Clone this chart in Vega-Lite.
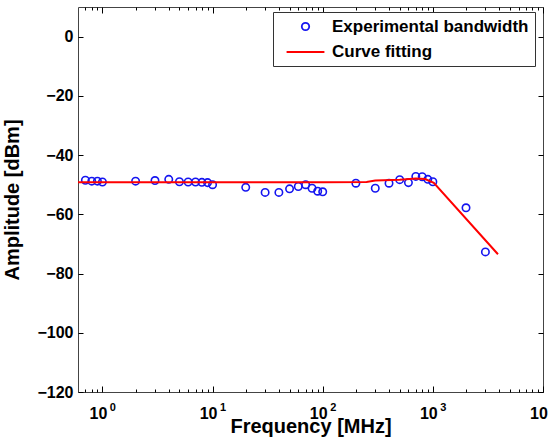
{
  "$schema": "https://vega.github.io/schema/vega-lite/v6.json",
  "width": 465,
  "height": 385,
  "autosize": "none",
  "padding": {"left": 78, "top": 7, "right": 6, "bottom": 47},
  "background": "white",
  "config": {
    "view": {"stroke": "#444444", "strokeWidth": 1},
    "font": "Liberation Sans",
    "axis": {"domain": false, "grid": false, "labelFont": "Liberation Sans", "labelFontWeight": "bold", "labelFontSize": 16, "labelColor": "black", "titleFont": "Liberation Sans", "titleFontWeight": "bold", "titleFontSize": 20, "titleColor": "black"}
  },
  "datasets": {
    "exp": [
      {"f": 0.7, "a": -48.5, "s": "Experimental bandwidth"},
      {"f": 0.8, "a": -48.8, "s": "Experimental bandwidth"},
      {"f": 0.9, "a": -48.8, "s": "Experimental bandwidth"},
      {"f": 1, "a": -49.1, "s": "Experimental bandwidth"},
      {"f": 2, "a": -48.8, "s": "Experimental bandwidth"},
      {"f": 3, "a": -48.6, "s": "Experimental bandwidth"},
      {"f": 4, "a": -48.2, "s": "Experimental bandwidth"},
      {"f": 5, "a": -49.0, "s": "Experimental bandwidth"},
      {"f": 6, "a": -49.1, "s": "Experimental bandwidth"},
      {"f": 7, "a": -49.1, "s": "Experimental bandwidth"},
      {"f": 8, "a": -49.2, "s": "Experimental bandwidth"},
      {"f": 9, "a": -49.3, "s": "Experimental bandwidth"},
      {"f": 10, "a": -50.0, "s": "Experimental bandwidth"},
      {"f": 20, "a": -50.9, "s": "Experimental bandwidth"},
      {"f": 30, "a": -52.6, "s": "Experimental bandwidth"},
      {"f": 40, "a": -52.6, "s": "Experimental bandwidth"},
      {"f": 50, "a": -51.4, "s": "Experimental bandwidth"},
      {"f": 60, "a": -50.6, "s": "Experimental bandwidth"},
      {"f": 70, "a": -50.0, "s": "Experimental bandwidth"},
      {"f": 80, "a": -51.2, "s": "Experimental bandwidth"},
      {"f": 90, "a": -52.2, "s": "Experimental bandwidth"},
      {"f": 100, "a": -52.4, "s": "Experimental bandwidth"},
      {"f": 200, "a": -49.5, "s": "Experimental bandwidth"},
      {"f": 300, "a": -51.2, "s": "Experimental bandwidth"},
      {"f": 400, "a": -49.5, "s": "Experimental bandwidth"},
      {"f": 500, "a": -48.3, "s": "Experimental bandwidth"},
      {"f": 600, "a": -49.3, "s": "Experimental bandwidth"},
      {"f": 700, "a": -47.2, "s": "Experimental bandwidth"},
      {"f": 800, "a": -47.3, "s": "Experimental bandwidth"},
      {"f": 900, "a": -48.2, "s": "Experimental bandwidth"},
      {"f": 1000, "a": -49.0, "s": "Experimental bandwidth"},
      {"f": 2000, "a": -57.8, "s": "Experimental bandwidth"},
      {"f": 3000, "a": -72.7, "s": "Experimental bandwidth"}
    ],
    "fit": [
      {"f": 0.6, "a": -49.2, "s": "Curve fitting"},
      {"f": 100, "a": -49.2, "s": "Curve fitting"},
      {"f": 250, "a": -49.1, "s": "Curve fitting"},
      {"f": 300, "a": -48.6, "s": "Curve fitting"},
      {"f": 500, "a": -48.3, "s": "Curve fitting"},
      {"f": 700, "a": -47.9, "s": "Curve fitting"},
      {"f": 850, "a": -48.1, "s": "Curve fitting"},
      {"f": 1020, "a": -49.4, "s": "Curve fitting"},
      {"f": 3900, "a": -73.5, "s": "Curve fitting"}
    ]
  },
  "layer": [
    {
      "data": {"name": "exp"},
      "mark": {"type": "point", "filled": false, "size": 55, "strokeWidth": 1.6, "opacity": 1},
      "encoding": {
        "x": {"field": "f", "type": "quantitative", "scale": {"type": "log", "domain": [0.6, 10000], "nice": false},
          "axis": {"orient": "bottom", "title": "Frequency [MHz]", "titlePadding": -5, "ticks": false, "tickSize": 0,
            "values": [1,10,100,1000,10000],
            "labelExpr": "'10'",
            "labelBaseline": "alphabetic", "labelPadding": 26, "labelOffset": -4.5, "labelFlush": false, "labelOverlap": false}},
        "y": {"field": "a", "type": "quantitative", "scale": {"domain": [-120, 10], "nice": false, "zero": false},
          "axis": {"orient": "left", "title": "Amplitude [dBm]", "ticks": false, "tickSize": 0, "values": [-120,-100,-80,-60,-40,-20,0], "labelPadding": 5, "titlePadding": 14}},
        "color": {"field": "s", "type": "nominal", "scale": {"domain": ["Experimental bandwidth", "Curve fitting"], "range": ["#1515f0", "#ff0000"]},
          "legend": {"orient": "none", "legendX": 195, "legendY": 5, "title": null, "strokeColor": "#333333", "fillColor": "white", "padding": 6, "labelFontSize": 17, "labelFontWeight": "bold", "labelColor": "black", "labelLimit": 400, "symbolSize": 55, "symbolStrokeWidth": 1.8, "symbolOffset": 18, "labelOffset": 18, "rowPadding": 7.5}},
        "shape": {"field": "s", "type": "nominal", "scale": {"domain": ["Experimental bandwidth", "Curve fitting"], "range": ["circle", "M-5.1,0H5.1"]}}
      }
    },
    {
      "data": {"name": "fit"},
      "mark": {"type": "line", "strokeWidth": 2},
      "encoding": {
        "x": {"field": "f", "type": "quantitative",
          "axis": {"orient": "top", "offset": -385, "title": null, "labels": false, "ticks": true, "tickColor": "black", "tickOpacity": 1, "tickWidth": 1,
            "values": [0.7,0.8,0.9,1,2,3,4,5,6,7,8,9,10,20,30,40,50,60,70,80,90,100,200,300,400,500,600,700,800,900,1000,2000,3000,4000,5000,6000,7000,8000,9000,10000],
            "tickSize": {"condition": {"test": "indexof([1,10,100,1000,10000], datum.value) >= 0", "value": 6}, "value": 3}}},
        "y": {"field": "a", "type": "quantitative",
          "axis": {"orient": "right", "offset": -465, "title": null, "labels": false, "ticks": true, "tickColor": "black", "tickOpacity": 1, "tickWidth": 1, "tickSize": 5, "values": [-120,-100,-80,-60,-40,-20,0]}},
        "color": {"field": "s", "type": "nominal"}
      }
    },
    {
      "data": {"name": "fit"},
      "mark": {"type": "line", "opacity": 0},
      "encoding": {
        "x": {"field": "f", "type": "quantitative",
          "axis": {"orient": "bottom", "offset": -385, "title": null, "ticks": true, "tickColor": "black", "tickOpacity": 1, "tickWidth": 1,
            "values": [0.7,0.8,0.9,1,2,3,4,5,6,7,8,9,10,20,30,40,50,60,70,80,90,100,200,300,400,500,600,700,800,900,1000,2000,3000,4000,5000,6000,7000,8000,9000,10000],
            "tickSize": {"condition": {"test": "indexof([1,10,100,1000,10000], datum.value) >= 0", "value": 6}, "value": 3},
            "labelExpr": "datum.value===1?'0':datum.value===10?'1':datum.value===100?'2':datum.value===1000?'3':datum.value===10000?'4':''",
            "labelFontSize": 11, "labelBaseline": "alphabetic", "labelPadding": 397, "labelOffset": 10, "labelFlush": false, "labelOverlap": false}},
        "y": {"field": "a", "type": "quantitative",
          "axis": {"orient": "left", "offset": -465, "title": null, "labels": false, "ticks": true, "tickColor": "black", "tickOpacity": 1, "tickWidth": 1, "tickSize": 5, "values": [-120,-100,-80,-60,-40,-20,0]}}
      }
    }
  ]
}
